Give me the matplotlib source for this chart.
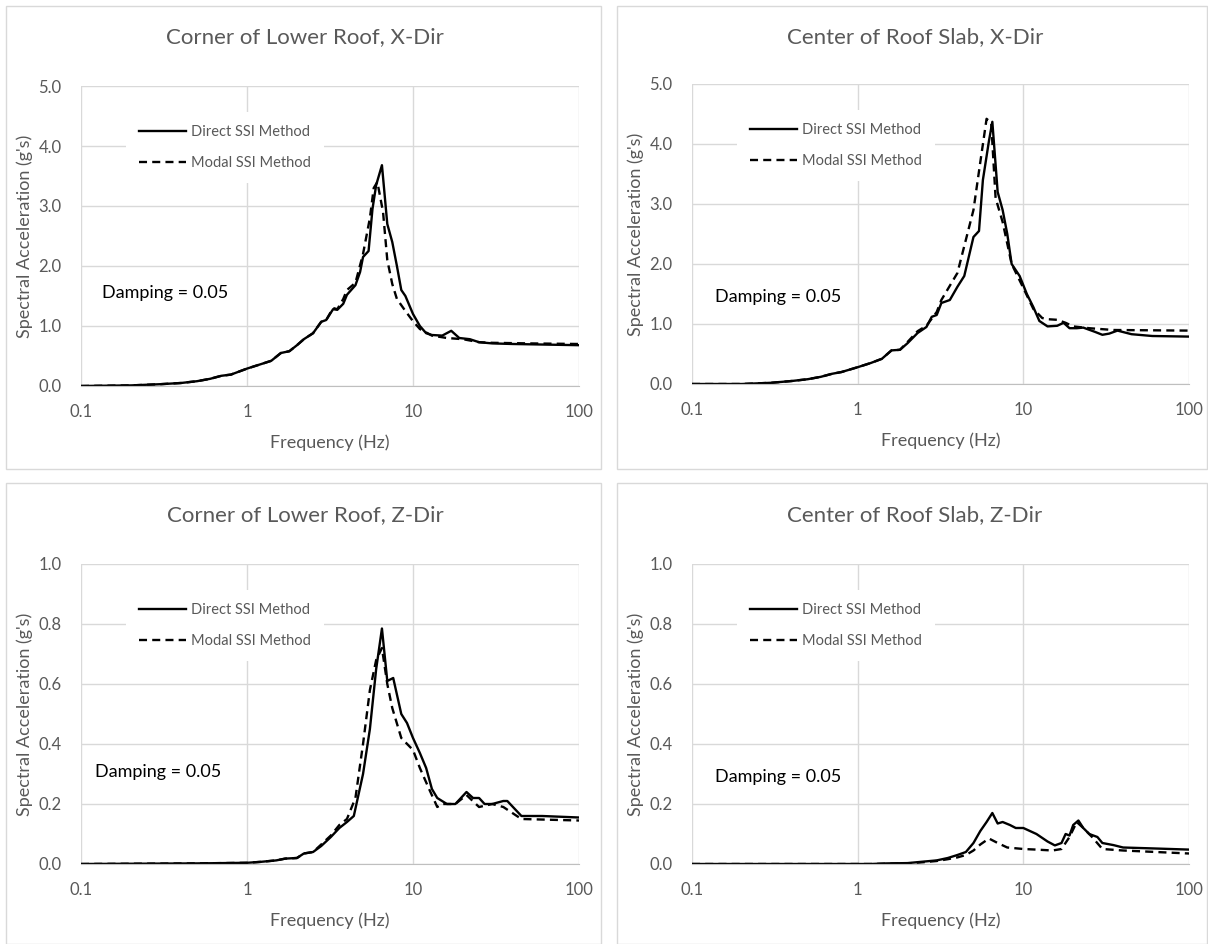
import matplotlib.pyplot as plt
from matplotlib.patches import Rectangle
from matplotlib.ticker import FixedLocator, FixedFormatter

plt.rcParams['font.family'] = ['Lato', 'DejaVu Sans']

# ---- data (frequency in Hz, Sa in g's) ----
# Corner of Lower Roof, X-Dir
tl_direct_f = [0.1, 0.2, 0.3, 0.4, 0.5, 0.6, 0.7, 0.8, 1.0, 1.2, 1.4, 1.6, 1.8, 2.0, 2.2, 2.5,
               2.8, 3.0, 3.3, 3.5, 3.8, 4.0, 4.5, 4.8, 5.0, 5.4, 5.7, 6.0, 6.5, 7.0, 7.5, 8.0,
               8.5, 9.0, 10, 11, 12, 13, 15, 17, 19, 22, 25, 30, 40, 100]
tl_direct_sa = [0.0, 0.01, 0.03, 0.05, 0.08, 0.12, 0.17, 0.19, 0.29, 0.36, 0.42, 0.55, 0.58, 0.68,
                0.78, 0.88, 1.07, 1.10, 1.28, 1.27, 1.37, 1.52, 1.68, 1.90, 2.15, 2.25, 2.95,
                3.35, 3.68, 2.70, 2.40, 2.00, 1.60, 1.50, 1.20, 1.00, 0.88, 0.85, 0.84, 0.92,
                0.80, 0.78, 0.73, 0.71, 0.70, 0.68]
tl_modal_f = [0.1, 0.2, 0.3, 0.4, 0.5, 0.6, 0.7, 0.8, 1.0, 1.2, 1.4, 1.6, 1.8, 2.0, 2.2, 2.5,
              2.8, 3.0, 3.3, 3.5, 3.8, 4.0, 4.5, 5.0, 5.5, 5.8, 6.1, 6.6, 7.0, 7.5, 8.0, 9.0,
              10, 11, 13, 16, 20, 25, 30, 50, 100]
tl_modal_sa = [0.0, 0.01, 0.03, 0.05, 0.08, 0.12, 0.17, 0.19, 0.29, 0.36, 0.42, 0.55, 0.58, 0.68,
               0.78, 0.88, 1.07, 1.10, 1.30, 1.28, 1.45, 1.60, 1.72, 2.20, 2.80, 3.30, 3.40,
               2.90, 2.10, 1.70, 1.45, 1.25, 1.08, 0.95, 0.84, 0.80, 0.78, 0.73, 0.72, 0.71, 0.70]

# Center of Roof Slab, X-Dir
tr_direct_f = [0.1, 0.2, 0.3, 0.4, 0.5, 0.6, 0.7, 0.8, 1.0, 1.2, 1.4, 1.6, 1.8, 2.0, 2.3, 2.6,
               2.8, 3.0, 3.2, 3.6, 4.0, 4.4, 5.0, 5.4, 5.7, 6.2, 6.5, 7.0, 7.5, 8.0, 8.5, 9.5,
               10.5, 11.5, 12.5, 14, 16, 17.5, 19, 21, 23, 27, 30, 33, 37, 45, 60, 100]
tr_direct_sa = [0.0, 0.0, 0.02, 0.05, 0.08, 0.12, 0.17, 0.20, 0.28, 0.35, 0.42, 0.56, 0.57, 0.68,
                0.85, 0.95, 1.12, 1.15, 1.35, 1.40, 1.62, 1.80, 2.45, 2.55, 3.40, 4.05, 4.37,
                3.20, 2.90, 2.50, 2.00, 1.80, 1.50, 1.28, 1.05, 0.96, 0.97, 1.02, 0.93, 0.93,
                0.94, 0.87, 0.82, 0.84, 0.89, 0.83, 0.80, 0.79]
tr_modal_f = [0.1, 0.2, 0.3, 0.4, 0.5, 0.6, 0.7, 0.8, 1.0, 1.2, 1.4, 1.6, 1.8, 2.0, 2.3, 2.6,
              3.0, 3.2, 4.0, 5.0, 5.5, 6.0, 6.4, 6.8, 7.5, 8.5, 10, 11.5, 13, 14, 16, 18, 20,
              25, 35, 100]
tr_modal_sa = [0.0, 0.0, 0.02, 0.05, 0.08, 0.12, 0.17, 0.20, 0.28, 0.35, 0.42, 0.56, 0.57, 0.70,
               0.88, 0.97, 1.20, 1.40, 1.85, 2.90, 3.70, 4.42, 4.35, 3.10, 2.70, 2.00, 1.60,
               1.25, 1.10, 1.08, 1.07, 1.02, 0.96, 0.93, 0.90, 0.89]

# Corner of Lower Roof, Z-Dir
bl_direct_f = [0.1, 0.5, 1.0, 1.2, 1.5, 1.7, 2.0, 2.2, 2.5, 2.8, 3.2, 3.6, 4.0, 4.4, 5.0, 5.5,
               6.0, 6.5, 7.0, 7.6, 8.5, 9.2, 10, 11, 12, 13, 14, 16, 18, 21, 23, 25, 27, 30,
               35, 37, 45, 60, 100]
bl_direct_sa = [0.0, 0.002, 0.004, 0.007, 0.012, 0.018, 0.02, 0.035, 0.04, 0.06, 0.09, 0.12,
                0.14, 0.16, 0.30, 0.45, 0.65, 0.785, 0.61, 0.62, 0.50, 0.47, 0.42, 0.37, 0.32,
                0.25, 0.22, 0.20, 0.20, 0.24, 0.22, 0.22, 0.20, 0.20, 0.21, 0.21, 0.16, 0.16,
                0.155]
bl_modal_f = [0.1, 0.5, 1.0, 1.2, 1.5, 1.7, 2.0, 2.2, 2.5, 2.8, 3.2, 3.6, 4.0, 4.5, 5.0, 5.5,
              6.0, 6.5, 7.0, 7.5, 8.5, 10, 11, 12.5, 14, 15, 18, 21, 25, 30, 35, 45, 100]
bl_modal_sa = [0.0, 0.002, 0.004, 0.007, 0.012, 0.018, 0.02, 0.035, 0.04, 0.065, 0.095, 0.13,
               0.15, 0.22, 0.40, 0.58, 0.68, 0.72, 0.60, 0.52, 0.42, 0.38, 0.32, 0.25, 0.19,
               0.20, 0.20, 0.23, 0.19, 0.20, 0.19, 0.15, 0.145]

# Center of Roof Slab, Z-Dir
br_direct_f = [0.1, 1.2, 1.5, 2.0, 2.5, 3.0, 3.5, 4.0, 4.5, 5.0, 5.5, 6.0, 6.5, 7.0, 7.5, 8.3,
               9.0, 10, 12, 14, 15.5, 17, 18, 19, 20, 21.5, 23, 25, 28, 30, 35, 40, 60, 100]
br_direct_sa = [0.0, 0.0, 0.002, 0.003, 0.008, 0.012, 0.02, 0.03, 0.04, 0.07, 0.11, 0.14, 0.17,
                0.135, 0.14, 0.13, 0.12, 0.12, 0.10, 0.075, 0.062, 0.07, 0.10, 0.095, 0.13,
                0.145, 0.12, 0.10, 0.09, 0.07, 0.063, 0.055, 0.052, 0.048]
br_modal_f = [0.1, 1.2, 1.5, 2.0, 2.5, 3.0, 3.5, 4.0, 4.5, 5.0, 5.5, 6.2, 7.0, 8.0, 10, 12, 15,
              17, 19, 21, 23, 26, 30, 40, 100]
br_modal_sa = [0.0, 0.0, 0.001, 0.002, 0.006, 0.01, 0.016, 0.022, 0.03, 0.045, 0.065, 0.085,
               0.07, 0.055, 0.05, 0.048, 0.045, 0.05, 0.09, 0.14, 0.12, 0.09, 0.05, 0.045, 0.035]

titles = ['Corner of Lower Roof, X-Dir', 'Center of Roof Slab, X-Dir',
          'Corner of Lower Roof, Z-Dir', 'Center of Roof Slab, Z-Dir']

W, H = 1208, 944
fig = plt.figure(figsize=(W / 100, H / 100), dpi=100)

GRID = '#d9d9d9'
TXT = '#595959'

def px_rect(x0, y0, x1, y1):
    return [x0 / W, 1 - y1 / H, (x1 - x0) / W, (y1 - y0) / H]

panels = [
    # box, axes rect, title center, y ticks, data, damping pos
    dict(box=(6, 6, 601, 469), ax=(81, 86, 579, 386), tc=(305, 37), ymax=5.0, ystep=1.0,
         d=(tl_direct_f, tl_direct_sa), m=(tl_modal_f, tl_modal_sa), dp=(0.042, 0.31)),
    dict(box=(617, 6, 1207, 469), ax=(692, 84, 1189, 384), tc=(915, 37), ymax=5.0, ystep=1.0,
         d=(tr_direct_f, tr_direct_sa), m=(tr_modal_f, tr_modal_sa), dp=(0.046, 0.29)),
    dict(box=(6, 483, 601, 944), ax=(81, 564, 579, 864), tc=(305, 515), ymax=1.0, ystep=0.2,
         d=(bl_direct_f, bl_direct_sa), m=(bl_modal_f, bl_modal_sa), dp=(0.028, 0.307)),
    dict(box=(617, 483, 1207, 944), ax=(692, 564, 1189, 864), tc=(915, 515), ymax=1.0, ystep=0.2,
         d=(br_direct_f, br_direct_sa), m=(br_modal_f, br_modal_sa), dp=(0.046, 0.29)),
]

for p, title in zip(panels, titles):
    x0, y0, x1, y1 = p['box']
    fig.patches.append(Rectangle((x0 / W, 1 - y1 / H), (x1 - x0) / W, (y1 - y0) / H,
                                 transform=fig.transFigure, fill=False,
                                 edgecolor=GRID, linewidth=1.0))
    fig.text(p['tc'][0] / W, 1 - p['tc'][1] / H, title, ha='center', va='center',
             fontsize=16, color=TXT)

    ax = fig.add_axes(px_rect(*p['ax']))
    ax.set_xscale('log')
    ax.set_xlim(0.1, 100)
    ax.set_ylim(0, p['ymax'])
    ax.xaxis.set_major_locator(FixedLocator([0.1, 1, 10, 100]))
    ax.xaxis.set_major_formatter(FixedFormatter(['0.1', '1', '10', '100']))
    ax.xaxis.set_minor_locator(FixedLocator([]))
    n = int(round(p['ymax'] / p['ystep']))
    yt = [i * p['ystep'] for i in range(n + 1)]
    ax.set_yticks(yt)
    ax.set_yticklabels(['%.1f' % v for v in yt])
    ax.tick_params(length=0, labelsize=12, labelcolor=TXT, pad=14)
    ax.tick_params(axis='x', pad=13)
    ax.grid(True, color=GRID, linewidth=1.0)
    ax.set_axisbelow(True)
    for s in ax.spines.values():
        s.set_visible(False)
    ax.spines['bottom'].set_visible(True)
    ax.spines['bottom'].set_color('#bfbfbf')

    ax.plot(p['d'][0], p['d'][1], color='black', lw=1.7, label='Direct SSI Method')
    ax.plot(p['m'][0], p['m'][1], color='black', lw=1.7, dashes=(3.4, 2.2),
            label='Modal SSI Method')

    ax.set_xlabel('Frequency (Hz)', fontsize=13, color=TXT, labelpad=10)
    ax.set_ylabel("Spectral Acceleration (g's)", fontsize=13, color=TXT, labelpad=4)

    leg = ax.legend(loc='upper left', bbox_to_anchor=(0.09, 0.915), fontsize=10.5,
                    frameon=True, fancybox=False, handlelength=3.2, handletextpad=0.35,
                    labelspacing=1.2, borderpad=0.9, borderaxespad=0)
    leg.get_frame().set_facecolor('white')
    leg.get_frame().set_edgecolor('none')
    leg.get_frame().set_alpha(1)
    for t in leg.get_texts():
        t.set_color(TXT)

    ax.text(p['dp'][0], p['dp'][1], 'Damping = 0.05', transform=ax.transAxes,
            fontsize=13, color='black', va='center', ha='left',
            bbox=dict(facecolor='white', edgecolor='none', pad=6))

fig.savefig('out.png', dpi=100, facecolor='white')
